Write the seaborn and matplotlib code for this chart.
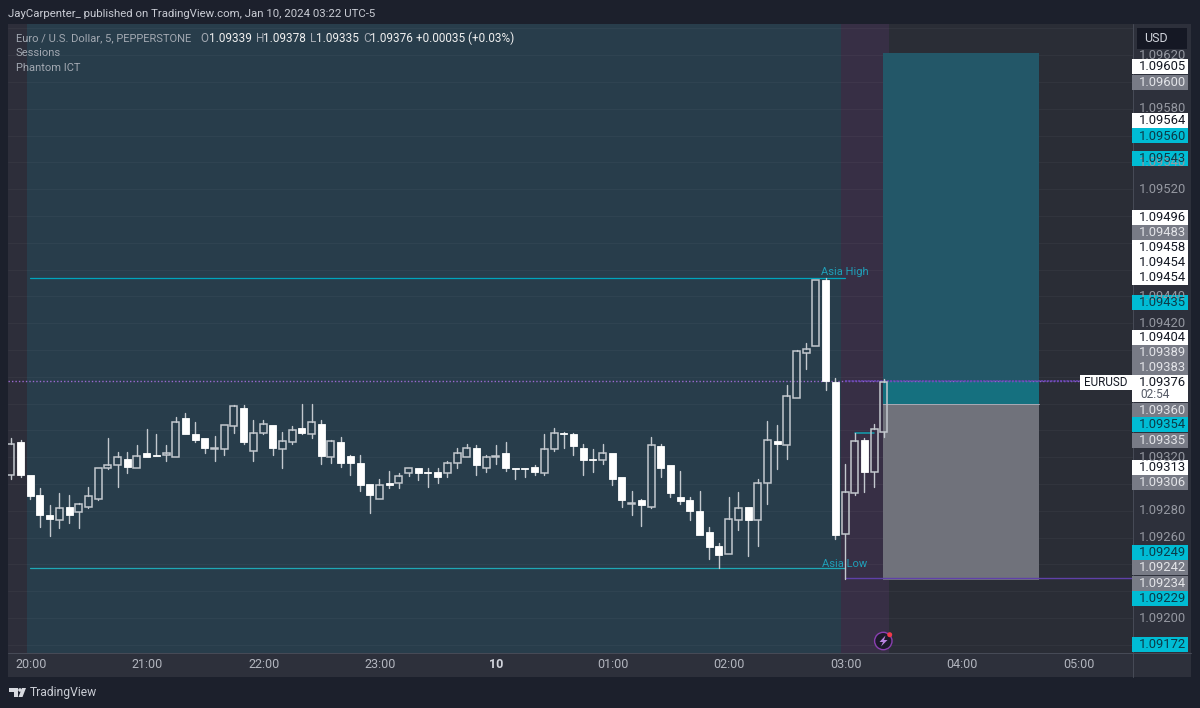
import matplotlib
matplotlib.use("Agg")
import matplotlib.pyplot as plt
from matplotlib.patches import Rectangle, Circle, Polygon
import numpy as np
import pandas as pd
import seaborn as sns

# ---------- data (prices) ----------
bar_index = list(range(-2, 89))
high = [1.09334,1.09333,1.09307,1.09297,1.09284,1.09293,1.09292,1.09286,1.09298,1.09312,
        1.09334,1.09324,1.09324,1.09329,1.09341,1.09337,1.09329,1.09350,1.09353,1.09346,
        1.09334,1.09336,1.09344,1.09359,1.09359,1.09348,1.09348,1.09344,1.09339,1.09343,
        1.09360,1.09360,1.09348,1.09333,1.09335,1.09322,1.09322,1.09300,1.09304,1.09310,
        1.09308,1.09312,1.09312,1.09312,1.09312,1.09317,1.09327,1.09330,1.09329,1.09322,
        1.09329,1.09331,1.09312,1.09312,1.09314,1.09337,1.09342,1.09339,1.09338,1.09330,
        1.09326,1.09330,1.09323,1.09305,1.09295,1.09289,1.09335,1.09330,1.09314,1.09310,
        1.09290,1.09295,1.09268,1.09256,1.09290,1.09294,1.09283,1.09304,1.09347,1.09344,
        1.09374,1.09400,1.09405,1.09452,1.09454,1.09379,1.09315,1.09338,1.09334,1.09345,
        1.09378]
low = [1.09304,1.09305,1.09289,1.09268,1.09261,1.09267,1.09271,1.09267,1.09282,1.09288,
       1.09311,1.09298,1.09308,1.09312,1.09320,1.09321,1.09317,1.09320,1.09337,1.09331,
       1.09323,1.09317,1.09322,1.09338,1.09330,1.09317,1.09337,1.09322,1.09312,1.09330,
       1.09337,1.09334,1.09315,1.09316,1.09313,1.09307,1.09295,1.09278,1.09289,1.09297,
       1.09297,1.09306,1.09303,1.09298,1.09301,1.09305,1.09312,1.09320,1.09307,1.09309,
       1.09315,1.09310,1.09304,1.09305,1.09307,1.09307,1.09325,1.09327,1.09322,1.09307,
       1.09309,1.09315,1.09299,1.09283,1.09277,1.09269,1.09282,1.09305,1.09290,1.09285,
       1.09273,1.09262,1.09244,1.09237,1.09248,1.09266,1.09246,1.09254,1.09285,1.09311,
       1.09319,1.09364,1.09386,1.09403,1.09370,1.09259,1.09229,1.09292,1.09294,1.09298,
       1.09335]
body_top = [1.09330,1.09331,1.09307,1.09292,1.09277,1.09282,1.09283,1.09285,1.09291,1.09312,
            1.09314,1.09320,1.09319,1.09321,1.09323,1.09322,1.09323,1.09346,1.09349,1.09337,
            1.09334,1.09327,1.09344,1.09358,1.09357,1.09338,1.09345,1.09344,1.09332,1.09340,
            1.09342,1.09346,1.09345,1.09332,1.09331,1.09321,1.09316,1.09300,1.09299,1.09301,
            1.09306,1.09312,1.09312,1.09309,1.09309,1.09316,1.09323,1.09327,1.09327,1.09320,
            1.09321,1.09323,1.09312,1.09312,1.09313,1.09326,1.09338,1.09338,1.09337,1.09327,
            1.09319,1.09323,1.09323,1.09305,1.09286,1.09288,1.09329,1.09328,1.09314,1.09290,
            1.09288,1.09280,1.09264,1.09254,1.09274,1.09282,1.09283,1.09301,1.09333,1.09332,
            1.09366,1.09399,1.09401,1.09452,1.09452,1.09376,1.09294,1.09332,1.09333,1.09341,
            1.09376]
body_bot = [1.09307,1.09307,1.09291,1.09277,1.09274,1.09273,1.09277,1.09279,1.09283,1.09289,
            1.09312,1.09314,1.09313,1.09312,1.09320,1.09321,1.09322,1.09320,1.09337,1.09333,
            1.09327,1.09326,1.09326,1.09343,1.09331,1.09325,1.09338,1.09327,1.09326,1.09331,
            1.09338,1.09337,1.09321,1.09320,1.09316,1.09316,1.09299,1.09292,1.09289,1.09299,
            1.09301,1.09308,1.09308,1.09308,1.09305,1.09308,1.09316,1.09320,1.09314,1.09312,
            1.09320,1.09312,1.09311,1.09311,1.09309,1.09308,1.09326,1.09337,1.09328,1.09318,
            1.09318,1.09318,1.09304,1.09288,1.09285,1.09284,1.09283,1.09312,1.09293,1.09287,
            1.09280,1.09262,1.09253,1.09247,1.09248,1.09273,1.09273,1.09273,1.09301,1.09330,
            1.09329,1.09364,1.09398,1.09403,1.09377,1.09262,1.09263,1.09293,1.09309,1.09309,
            1.09339]
rising = [1,0,0,0,0,1,0,1,1,1,
          1,1,0,1,0,0,1,1,0,0,
          0,1,1,1,0,1,1,0,1,1,
          0,1,0,1,0,0,0,0,1,0,
          1,1,0,0,0,1,1,1,0,1,
          1,0,0,0,0,1,1,0,0,0,
          0,1,0,0,1,0,1,0,0,0,
          0,0,0,0,1,1,0,1,1,0,
          1,1,1,1,0,0,1,1,0,1,
          1]

asia_high = 1.09454
asia_low = 1.09237
session_start = -0.37
session_break = 83.6
session_end = 88.5
position_start = 87.94
position_end = 104.0
position_entry = 1.09360
position_target = 1.09622
position_stop = 1.09228
last_price = 1.09376
price_line = 1.09377
link_low = 1.09230
swing_level = 1.09338

axis_ticks = [1.09620, 1.09580, 1.09540, 1.09520, 1.09440, 1.09420, 1.09320, 1.09280, 1.09260, 1.09200]
time_labels = ["20:00","21:00","22:00","23:00","10","01:00","02:00","03:00","04:00","05:00"]
time_ticks = [0, 12, 24, 36, 48, 60, 72, 84, 96, 108]
price_labels = ["1.09605","1.09600","1.09564","1.09560","1.09543","1.09496","1.09483","1.09458",
                "1.09454","1.09454","1.09435","1.09404","1.09389","1.09383","1.09360","1.09354",
                "1.09335","1.09313","1.09306","1.09249","1.09242","1.09234","1.09229","1.09172"]
price_kinds = ["w","g","w","c","c","w","g","w","w","w","c","w","g","g","g","c","g","w","g","c","g","g","c","c"]
label_rows = [66.8,82,120.5,135.8,158.7,217.4,232.6,247.5,262.5,277.7,302.3,337.3,352.5,367.5,
              410,424.7,440,467,482,552.5,567.5,583,598,644.5]

# ---------- theme ----------
sns.set_theme(style="dark")
plt.rcParams["font.family"] = ["Roboto", "DejaVu Sans"]

W, H = 1200, 708
FIG = "#1c202c"
PANE = "#2a2d36"
SESSION = "#283d4b"
LEFT = "#2d2e3a"
PURPLE = "#372f45"
AXISBG = "#2d303b"
TXT = "#b2b5be"
TEAL = "#00a5bd"
BODY = "#ffffff"
EDGE = "#c3c8ce"
WICK = "#c3c8ce"
LEG = 8.05

fig = plt.figure(figsize=(W / 100, H / 100), dpi=100, facecolor=FIG)

back = fig.add_axes([0, 0, 1, 1], zorder=0)
back.set_xlim(0, W); back.set_ylim(H, 0); back.axis("off")
front = fig.add_axes([0, 0, 1, 1], zorder=5)
front.set_xlim(0, W); front.set_ylim(H, 0); front.axis("off"); front.patch.set_alpha(0)

L, R, T, B = 8, 1133, 24, 652.5
ax = fig.add_axes([L / W, 1 - B / H, (R - L) / W, (B - T) / H], zorder=2)
ax.patch.set_facecolor(PANE)
for s in ax.spines.values():
    s.set_visible(False)

back.add_patch(Rectangle((R, T), 58, B - T + 24, color=AXISBG, lw=0))
back.add_patch(Rectangle((L, B), R - L, 24, color=AXISBG, lw=0))
back.plot([L, R + 58], [B, B], color="#474b57", lw=0.7)
back.plot([R, R], [T, B + 24], color="#474b57", lw=0.7)

PX = 9.70
x0 = 30.3
XMIN, XMAX = (L - x0) / PX, (R - x0) / PX
YPP = 0.0002 / 26.8
YMAX = 1.092 + (618 - T) * YPP
YMIN = 1.092 + (618 - B) * YPP

# sessions
ax.axvspan(XMIN, session_start, color=LEFT, lw=0, zorder=0)
ax.axvspan(session_start, session_break, color=SESSION, lw=0, zorder=0)
ax.axvspan(session_break, session_end, color=PURPLE, lw=0, zorder=0)

# faint grid
for p in np.arange(1.0918, 1.0966, 0.0002):
    ax.axhline(p, color="#ffffff", alpha=0.035, lw=0.7, zorder=1)

# position box
ax.fill_between([position_start, position_end], position_entry, position_target,
                color="#235768", lw=0, zorder=1.5)
ax.fill_between([position_start, position_end], position_entry, price_line,
                color="#15707f", lw=0, zorder=1.6)
ax.fill_between([position_start, position_end], position_stop, position_entry,
                color="#70727b", lw=0, zorder=1.5)
ax.plot([position_start, position_end], [position_entry] * 2, color="#a8aab5", lw=0.7, zorder=1.7)

# session levels
ax.plot([0, 84], [asia_high, asia_high], color=TEAL, lw=0.9, zorder=2)
ax.plot([0, 84], [asia_low, asia_low], color="#1fa8b5", lw=0.9, zorder=2)
ax.annotate("Asia High", (84, asia_high), xytext=(845, 272), textcoords=front.transData,
            color="#1f9fb8", fontsize=8.0, ha="center", va="center", zorder=6)
ax.annotate("Asia Low", (84, asia_low), xytext=(845, 564), textcoords=front.transData,
            color="#1f9fb8", fontsize=8.0, ha="center", va="center", zorder=6)

# purple lines
ax.plot([XMIN, XMAX], [price_line] * 2, color="#9a6ad0", lw=1.0, ls=(0, (1, 1.5)), zorder=2)
ax.plot([84, XMAX], [price_line] * 2, color="#6a45b8", lw=1.1, ls=(0, (1.5, 0.6)), zorder=2.1)
ax.plot([84, XMAX], [link_low] * 2, color="#5f41a8", lw=1.0, zorder=2.2)
ax.plot([85, 87], [swing_level] * 2, color="#12a0b0", lw=1.1, zorder=2.2)

# candles
df = pd.DataFrame({"bar": bar_index, "high": high, "low": low, "top": body_top,
                   "bot": body_bot, "rising": rising})
df["height"] = df["top"] - df["bot"]
wicks = pd.concat([
    pd.DataFrame({"seg": df["bar"] * 2, "bar": df["bar"], "price": df["high"]}),
    pd.DataFrame({"seg": df["bar"] * 2, "bar": df["bar"], "price": df["top"]}),
    pd.DataFrame({"seg": df["bar"] * 2 + 1, "bar": df["bar"], "price": df["bot"]}),
    pd.DataFrame({"seg": df["bar"] * 2 + 1, "bar": df["bar"], "price": df["low"]}),
])
sns.lineplot(data=wicks, x="bar", y="price", units="seg", estimator=None, color=WICK,
             lw=1.0, ax=ax, zorder=3, legend=False, errorbar=None)
BW = 7.0 / PX
up = df[df["rising"] == 1]
down = df[df["rising"] == 0]
ax.bar(down["bar"], down["height"], bottom=down["bot"], width=BW, color=BODY,
       edgecolor=BODY, lw=0.6, zorder=4)
ax.bar(up["bar"], up["height"], bottom=up["bot"], width=BW, facecolor="none",
       edgecolor=EDGE, lw=1.1, zorder=4)

ax.set_xlim(XMIN, XMAX)
ax.set_ylim(YMIN, YMAX)
ax.set_xlabel(""); ax.set_ylabel("")
ax.set_xticks([]); ax.set_yticks([])
ax.grid(False)

# time axis labels
for t, lab in zip(time_ticks, time_labels):
    front.text(x0 + t * PX + 0.7, 665, lab, color=TXT if lab != "10" else "#d1d4dc",
               fontsize=9, ha="center", va="center",
               fontweight="bold" if lab == "10" else "normal")

# price axis ticks
for p in axis_ticks:
    y = 618 - (p - 1.092) / YPP
    front.text(1162, y, f"{p:.5f}", color="#9598a1", fontsize=9.4, ha="center", va="center")

# price labels
SW = {"w": ("#ffffff", "#131722"), "g": ("#787b86", "#e3e4e8"), "c": ("#00bcd4", "#0b3a48")}
for lab, kind, y in zip(price_labels, price_kinds, label_rows):
    bg, fg = SW[kind]
    front.add_patch(Rectangle((1132.3, y - 7.5), 55.4, 15, color=bg, lw=0))
    front.text(1162, y + 0.2, lab, color=fg, fontsize=9.4, ha="center", va="center")

# last price tag
front.add_patch(Rectangle((1132.3, 375), 55.4, 27.3, color="#ffffff", lw=0))
front.text(1162, 382, f"{last_price:.5f}", color="#131722", fontsize=9.4, ha="center", va="center")
front.text(1155, 395, "02:54", color="#555a66", fontsize=8.6, ha="center", va="center")
front.add_patch(Rectangle((1080, 374.5), 52, 15, color="#ffffff", lw=0))
front.text(1106, 382.2, "EURUSD", color="#131722", fontsize=8.4, ha="center", va="center")

# USD button
front.add_patch(Rectangle((1137, 28), 50, 21, color="#151824", lw=0))
front.text(1144.5, 38.5, "USD", color="#d1d4dc", fontsize=9, ha="left", va="center")

# header
front.text(8, 14, "JayCarpenter_ published on TradingView.com, Jan 10, 2024 03:22 UTC-5",
           color="#c9ccd4", fontsize=8.2, ha="left", va="center")
front.text(16, 38, "Euro / U.S. Dollar, 5, PEPPERSTONE", color="#a3a9b2", fontsize=LEG, ha="left", va="center")
parts = [(200.7, "O", "#a3a9b2"), (209, "1.09339", "#f0f0f0"), (256, "H", "#a3a9b2"), (263.4, "1.09378", "#f0f0f0"),
         (310, "L", "#a3a9b2"), (316, "1.09335", "#f0f0f0"), (363, "C", "#a3a9b2"), (370, "1.09376", "#f0f0f0"),
         (416, "+0.00035 (+0.03%)", "#f0f0f0")]
for x, s, c in parts:
    front.text(x, 38, s, color=c, fontsize=8.5, ha="left", va="center")
front.text(16, 53, "Sessions", color="#a3a9b2", fontsize=LEG, ha="left", va="center")
front.text(16, 68, "Phantom ICT", color="#a3a9b2", fontsize=LEG, ha="left", va="center")

# footer logo
front.add_patch(Polygon([(9, 688), (17.5, 688), (17.5, 697), (13.5, 697), (13.5, 692), (9, 692)], color="#d8dae0", lw=0))
front.add_patch(Circle((20, 690), 1.8, color="#d8dae0", lw=0))
front.add_patch(Polygon([(22, 688), (26, 688), (22.5, 697), (18.5, 697)], color="#d8dae0", lw=0))
front.text(30, 692.5, "TradingView", color="#c9ccd4", fontsize=8.7, ha="left", va="center")

# replay marker
front.add_patch(Circle((883.3, 641), 8.7, facecolor="#1c1a2a", edgecolor="#8a3fb0", lw=1))
front.add_patch(Polygon([(885.5, 635.5), (879.5, 642), (883, 642), (881, 646.5), (887.5, 640), (884, 640)],
                        color="#b983e0", lw=0))
front.add_patch(Circle((889.7, 634.7), 2.5, color="#f03a4a", lw=0))

fig.savefig("out.png", dpi=100, facecolor=FIG)
